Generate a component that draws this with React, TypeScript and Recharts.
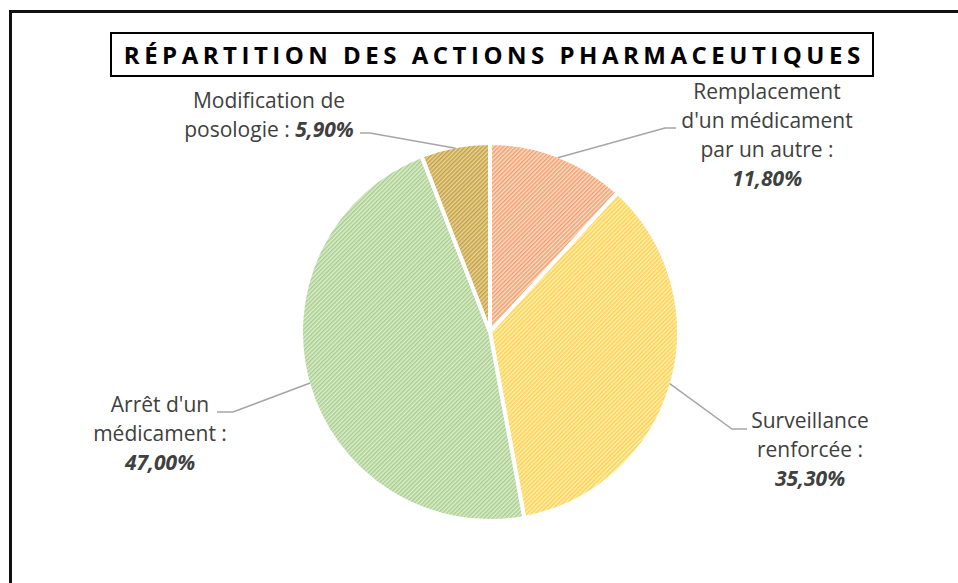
import React from 'react';
import { PieChart, Pie, Cell } from 'recharts';

const categories = [
  "Remplacement d'un médicament par un autre",
  'Surveillance renforcée',
  "Arrêt d'un médicament",
  'Modification de posologie',
];
const percentValues = [11.8, 35.3, 47.0, 5.9];
const labelLines = [
  ['Remplacement', "d'un médicament", 'par un autre :'],
  ['Surveillance', 'renforcée :'],
  ["Arrêt d'un", 'médicament :'],
  ['Modification de', 'posologie : '],
];
const valueOnLastLine = [false, false, false, true];
const titleText = 'RÉPARTITION DES ACTIONS PHARMACEUTIQUES';

const chartData = categories.map((name, i) => ({ name, value: percentValues[i] }));

const hatchColors = [
  { light: '#FCDCC8', dark: '#F29F6C' },
  { light: '#FFEEB5', dark: '#FFD24D' },
  { light: '#DCEBD0', dark: '#A8CF8B' },
  { light: '#E8D39A', dark: '#C4A043' },
];

// label placement relative to pie centre: text centre x, first baseline y, elbow, end of leader
const labelLayout = [
  { tx: 277, ty: -233, ex: 175, ey: -204, fx: 186, fy: -204 },
  { tx: 320, ty: 96, ex: 242, ey: 97, fx: 257, fy: 97 },
  { tx: -330, ty: 80, ex: -257, ey: 80, fx: -273, fy: 80 },
  { tx: -221, ty: -224, ex: -120, ey: -199, fx: -130, fy: -199 },
];

const LINE_H = 29;
const RAD = Math.PI / 180;
const fmt = (v: number) => v.toFixed(2).replace('.', ',') + '%';

const renderLabel = (props: any) => {
  const { cx, cy, midAngle, outerRadius, index, value } = props;
  const L = labelLayout[index];
  const r = outerRadius - 2;
  const sx = cx + r * Math.cos(-midAngle * RAD);
  const sy = cy + r * Math.sin(-midAngle * RAD);
  const lines = labelLines[index];
  const tx = cx + L.tx;
  const ty = cy + L.ty;
  const pct = fmt(value);
  return (
    <g key={`lbl-${index}`}>
      <polyline
        points={`${sx},${sy} ${cx + L.ex},${cy + L.ey} ${cx + L.fx},${cy + L.fy}`}
        fill="none"
        stroke="#A6A6A6"
        strokeWidth={1.5}
      />
      <text
        x={tx}
        y={ty}
        textAnchor="middle"
        fill="#404040"
        fontFamily="Open Sans, sans-serif"
        fontSize={21}
      >
        {lines.map((ln, i) => (
          <tspan key={i} x={tx} y={ty + i * LINE_H}>
            {ln}
            {valueOnLastLine[index] && i === lines.length - 1 ? (
              <tspan fontWeight="bold" fontStyle="italic">{pct}</tspan>
            ) : null}
          </tspan>
        ))}
        {!valueOnLastLine[index] ? (
          <tspan x={tx} y={ty + lines.length * LINE_H} fontWeight="bold" fontStyle="italic">
            {pct}
          </tspan>
        ) : null}
      </text>
    </g>
  );
};

export default function App() {
  return (
    <div
      style={{
        position: 'fixed',
        left: 0,
        top: 0,
        width: 958,
        height: 583,
        overflow: 'hidden',
        background: '#fff',
      }}
    >
      <div
        style={{
          position: 'absolute',
          left: 9,
          top: 10,
          width: 1000,
          height: 700,
          border: '3px solid #111',
          boxSizing: 'border-box',
        }}
      />
      <div style={{ position: 'absolute', left: 0, top: 0 }}>
        <PieChart width={958} height={583} margin={{ top: 0, right: 0, bottom: 0, left: 0 }}>
          <defs>
            {hatchColors.map((c, i) => (
              <pattern
                key={i}
                id={`hatch-${i}`}
                width={3}
                height={3}
                patternUnits="userSpaceOnUse"
                patternTransform="rotate(45)"
              >
                <rect width={3} height={3} fill={c.light} />
                <rect width={1.5} height={3} fill={c.dark} />
              </pattern>
            ))}
          </defs>
          <Pie
            data={chartData}
            dataKey="value"
            nameKey="name"
            cx={490}
            cy={332}
            outerRadius={189}
            startAngle={90}
            endAngle={-270}
            stroke="#FFFFFF"
            strokeWidth={4}
            isAnimationActive={false}
            label={renderLabel}
            labelLine={false}
          >
            {chartData.map((d, i) => (
              <Cell key={d.name} fill={`url(#hatch-${i})`} />
            ))}
          </Pie>
        </PieChart>
      </div>
      <div
        style={{
          position: 'absolute',
          left: 110,
          top: 32,
          width: 764,
          height: 45,
          border: '2px solid #000',
          boxSizing: 'border-box',
          display: 'flex',
          alignItems: 'center',
          justifyContent: 'center',
          fontFamily: 'Open Sans, sans-serif',
          fontWeight: 'bold',
          fontSize: 24,
          letterSpacing: 4.5,
          paddingLeft: 4.5,
          color: '#000',
          whiteSpace: 'nowrap',
          background: '#fff',
        }}
      >
        {titleText}
      </div>
    </div>
  );
}
